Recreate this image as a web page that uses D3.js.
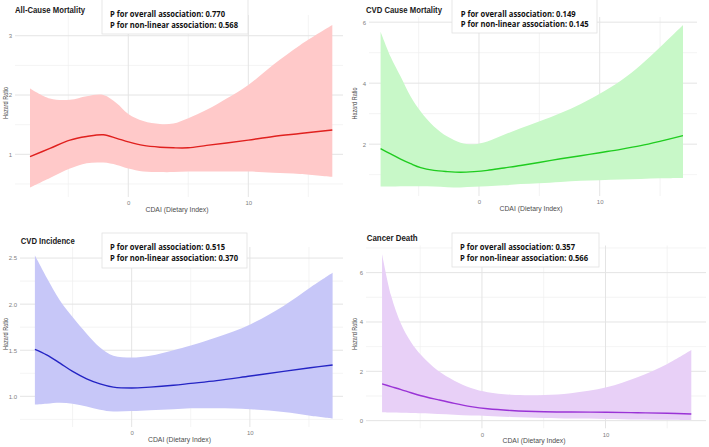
<!DOCTYPE html>
<html><head><meta charset="utf-8">
<script src="https://cdn.jsdelivr.net/npm/d3@7"></script>
<style>
html,body{margin:0;padding:0;background:#fff;}
svg{display:block;}
</style></head>
<body>
<svg id="chart" width="709" height="447"></svg>
<script>
// ---------- DATA ----------
const panelTitles = ["All-Cause Mortality", "CVD Cause Mortality", "CVD Incidence", "Cancer Death"];
const pOverall = ["0.770", "0.149", "0.515", "0.357"];
const pNonLinear = ["0.568", "0.145", "0.370", "0.566"];
const xAxisTitle = "CDAI (Dietary Index)";
const yAxisTitle = "Hazard Ratio";
const xTickValues = [0, 10];
const xMinorValues = [-5, 5, 15];

// All-cause mortality
const allCauseX  = [-8.19,-6.53,-4.86,-3.47,-2.08,-0.97,0,1.25,2.64,3.75,5,6.53,8.19,10,12.08,14.31,17];
const allCauseHR = [0.96,1.10,1.24,1.30,1.33,1.27,1.21,1.15,1.12,1.11,1.11,1.15,1.19,1.24,1.30,1.35,1.41];
const allCauseLo = [0.44,0.60,0.76,0.85,0.86,0.82,0.76,0.71,0.70,0.70,0.71,0.71,0.71,0.71,0.69,0.67,0.62];
const allCauseHi = [2.11,1.94,1.92,1.98,2.00,1.86,1.68,1.56,1.51,1.52,1.61,1.75,1.94,2.17,2.51,2.84,3.18];
const allCauseYTicks = [1, 2, 3];
const allCauseYMinor = [0.5, 1.5, 2.5];

// CVD cause mortality
const cvdMortX  = [-8.15,-7.32,-6.49,-5.66,-4.83,-3.73,-2.62,-1.52,-0.41,0.69,2.07,3.45,4.97,6.77,8.43,10,11.74,13.4,15.06,16.9];
const cvdMortHR = [1.85,1.68,1.51,1.36,1.23,1.14,1.10,1.08,1.10,1.14,1.22,1.30,1.40,1.52,1.62,1.72,1.83,1.95,2.10,2.28];
const cvdMortLo = [0.61,0.61,0.62,0.62,0.62,0.61,0.59,0.58,0.60,0.62,0.65,0.69,0.72,0.76,0.80,0.82,0.84,0.86,0.88,0.89];
const cvdMortHi = [5.69,4.87,4.22,3.56,3.07,2.58,2.25,2.05,2.00,2.09,2.31,2.52,2.74,3.02,3.32,3.65,4.08,4.60,5.20,5.91];
const cvdMortYTicks = [2, 4, 6];
const cvdMortYMinor = [1, 3, 5];

// CVD incidence
const cvdIncX  = [-8.19,-7.2,-6.07,-5,-3.81,-2.68,-1.55,0,1.55,3.53,5,7.2,10.03,12.85,15.11,17];
const cvdIncHR = [1.51,1.45,1.36,1.27,1.19,1.135,1.10,1.09,1.10,1.12,1.14,1.17,1.22,1.27,1.31,1.34];
const cvdIncLo = [0.91,0.92,0.93,0.92,0.89,0.855,0.835,0.84,0.85,0.86,0.87,0.87,0.86,0.83,0.79,0.76];
const cvdIncHi = [2.53,2.29,2.04,1.86,1.68,1.53,1.44,1.42,1.44,1.50,1.55,1.64,1.78,1.98,2.18,2.34];
const cvdIncYTicks = [1.0, 1.5, 2.0, 2.5];
const cvdIncYMinor = [0.75, 1.25, 1.75, 2.25];

// Cancer death
const cancerX  = [-8.09,-7.36,-6.55,-5.74,-4.93,-3.58,-2.24,-0.89,0.46,2.35,5.04,7.2,10.08,12.59,15.01,16.95];
const cancerHR = [1.49,1.38,1.26,1.13,1.01,0.85,0.70,0.57,0.48,0.41,0.36,0.35,0.34,0.32,0.30,0.27];
const cancerLo = [0.34,0.33,0.32,0.31,0.30,0.27,0.24,0.21,0.19,0.15,0.11,0.09,0.07,0.05,0.04,0.03];
const cancerHi = [6.76,5.07,3.92,3.18,2.66,2.03,1.62,1.32,1.15,1.05,1.04,1.11,1.35,1.76,2.30,2.86];
const cancerYTicks = [0, 2, 4, 6];
const cancerYMinor = [1, 3, 5, 7];

// ---------- LAYOUT / STYLE ----------
const layout = [
  {box:{l:15,r:343,t:15,b:197}, xDom:[-9.44,17.89], yDom:[0.28,3.35], yFmt:d3.format("d"),
   fill:"#ffc9c9", line:"#e0201e",
   title:{x:15,y:10,len:70}, pbox:{x:102,y:-2,w:146,h:36}, ptext:{x:110,y1:14,y2:24.6},
   yTitleX:5},
  {box:{l:369,r:697,t:17,b:196}, xDom:[-9.11,18.06], yDom:[0.30,6.17], yFmt:d3.format("d"),
   fill:"#c8f8c8", line:"#1fcc1f",
   title:{x:366,y:10,len:76}, pbox:{x:452,y:-2,w:145,h:35}, ptext:{x:460.7,y1:13.4,y2:24},
   yTitleX:354.5},
  {box:{l:20,r:343,t:247,b:427}, xDom:[-9.45,17.88], yDom:[0.667,2.62], yFmt:d3.format(".1f"),
   fill:"#c7c7f8", line:"#2424c4",
   title:{x:20.7,y:240.7,len:54}, pbox:{x:102,y:233,w:145,h:35}, ptext:{x:110,y1:246.9,y2:257.6},
   yTitleX:5},
  {box:{l:366,r:706,t:245.5,b:428.3}, xDom:[-9.39,18.14], yDom:[-0.31,7.10], yFmt:d3.format("d"),
   fill:"#e8d0f7", line:"#9a33d6",
   title:{x:366.7,y:238,len:51}, pbox:{x:452,y:233,w:147,h:34}, ptext:{x:460,y1:246.9,y2:257.6},
   yTitleX:354.5}
];

const series = [
  {x:allCauseX, hr:allCauseHR, lo:allCauseLo, hi:allCauseHi, yTicks:allCauseYTicks, yMinor:allCauseYMinor},
  {x:cvdMortX, hr:cvdMortHR, lo:cvdMortLo, hi:cvdMortHi, yTicks:cvdMortYTicks, yMinor:cvdMortYMinor},
  {x:cvdIncX, hr:cvdIncHR, lo:cvdIncLo, hi:cvdIncHi, yTicks:cvdIncYTicks, yMinor:cvdIncYMinor},
  {x:cancerX, hr:cancerHR, lo:cancerLo, hi:cancerHi, yTicks:cancerYTicks, yMinor:cancerYMinor}
];

const svg = d3.select("#chart");
svg.append("rect").attr("width",709).attr("height",447).attr("fill","#fff");

const sans = "'Liberation Sans', Arial, Helvetica, sans-serif";
const boldSans = "'Open Sans', 'Noto Sans', sans-serif";

series.forEach((s, i) => {
  const L = layout[i];
  const x = d3.scaleLinear().domain(L.xDom).range([L.box.l, L.box.r]);
  const y = d3.scaleLinear().domain(L.yDom).range([L.box.b, L.box.t]);
  const g = svg.append("g");

  // minor gridlines
  g.selectAll(".ym").data(s.yMinor.filter(v => v>=L.yDom[0] && v<=L.yDom[1])).join("line")
    .attr("x1",L.box.l).attr("x2",L.box.r).attr("y1",d=>y(d)).attr("y2",d=>y(d))
    .attr("stroke","#efefef").attr("stroke-width",0.7);
  g.selectAll(".xm").data(xMinorValues).join("line")
    .attr("y1",L.box.t).attr("y2",L.box.b).attr("x1",d=>x(d)).attr("x2",d=>x(d))
    .attr("stroke","#efefef").attr("stroke-width",0.7);
  // major gridlines
  g.selectAll(".yM").data(s.yTicks).join("line")
    .attr("x1",L.box.l).attr("x2",L.box.r).attr("y1",d=>y(d)).attr("y2",d=>y(d))
    .attr("stroke","#e4e4e4").attr("stroke-width",1);
  g.selectAll(".xM").data(xTickValues).join("line")
    .attr("y1",L.box.t).attr("y2",L.box.b).attr("x1",d=>x(d)).attr("x2",d=>x(d))
    .attr("stroke","#e4e4e4").attr("stroke-width",1);

  const idx = d3.range(s.x.length);
  const curve = d3.curveCatmullRom.alpha(0.5);
  const area = d3.area().x(j=>x(s.x[j])).y0(j=>y(s.lo[j])).y1(j=>y(s.hi[j])).curve(curve);
  const line = d3.line().x(j=>x(s.x[j])).y(j=>y(s.hr[j])).curve(curve);
  g.append("path").attr("d",area(idx)).attr("fill",L.fill);
  g.append("path").attr("d",line(idx)).attr("fill","none").attr("stroke",L.line).attr("stroke-width",1.4);

  // axes (labels only)
  const xa = g.append("g").attr("transform",`translate(0,${L.box.b})`)
    .call(d3.axisBottom(x).tickValues(xTickValues).tickSize(0).tickPadding(4).tickFormat(d3.format("d")));
  xa.select(".domain").remove();
  xa.selectAll("text").attr("font-family",sans).attr("font-size",6).attr("fill","#808080");
  const ya = g.append("g").attr("transform",`translate(${L.box.l},0)`)
    .call(d3.axisLeft(y).tickValues(s.yTicks).tickSize(0).tickPadding(3).tickFormat(L.yFmt));
  ya.select(".domain").remove();
  ya.selectAll("text").attr("font-family",sans).attr("font-size",6).attr("fill","#808080");

  // axis titles
  g.append("text").attr("x",(L.box.l+L.box.r)/2 - 2).attr("y",L.box.b+14.5)
    .attr("text-anchor","middle").attr("font-family",sans).attr("font-size",7.5).attr("fill","#4d4d4d")
    .attr("textLength",63).attr("lengthAdjust","spacingAndGlyphs").text(xAxisTitle);
  const ym = (L.box.t+L.box.b)/2 - 3;
  g.append("text").attr("transform",`translate(${L.yTitleX+2.5},${ym}) rotate(-90)`)
    .attr("text-anchor","middle").attr("font-family",sans).attr("font-size",7.5).attr("fill","#4d4d4d")
    .attr("textLength",32).attr("lengthAdjust","spacingAndGlyphs").text(yAxisTitle);

  // panel title
  g.append("text").attr("x",L.title.x).attr("y",L.title.y+3.2)
    .attr("font-family",sans).attr("font-weight","bold").attr("font-size",9).attr("fill","#1a1a1a")
    .attr("textLength",L.title.len).attr("lengthAdjust","spacingAndGlyphs").text(panelTitles[i]);

  // p-value box
  g.append("rect").attr("x",L.pbox.x).attr("y",L.pbox.y).attr("width",L.pbox.w).attr("height",L.pbox.h)
    .attr("fill","#fff").attr("stroke","#e2e2e2").attr("stroke-width",0.8);
  g.append("text").attr("x",L.ptext.x).attr("y",L.ptext.y1+3.1)
    .attr("font-family",boldSans).attr("font-weight","bold").attr("font-size",8.5).attr("fill","#111")
    .attr("textLength",115).attr("lengthAdjust","spacingAndGlyphs")
    .text("P for overall association: " + pOverall[i]);
  g.append("text").attr("x",L.ptext.x).attr("y",L.ptext.y2+3.1)
    .attr("font-family",boldSans).attr("font-weight","bold").attr("font-size",8.5).attr("fill","#111")
    .attr("textLength",128).attr("lengthAdjust","spacingAndGlyphs")
    .text("P for non-linear association: " + pNonLinear[i]);
});
</script>
</body></html>
